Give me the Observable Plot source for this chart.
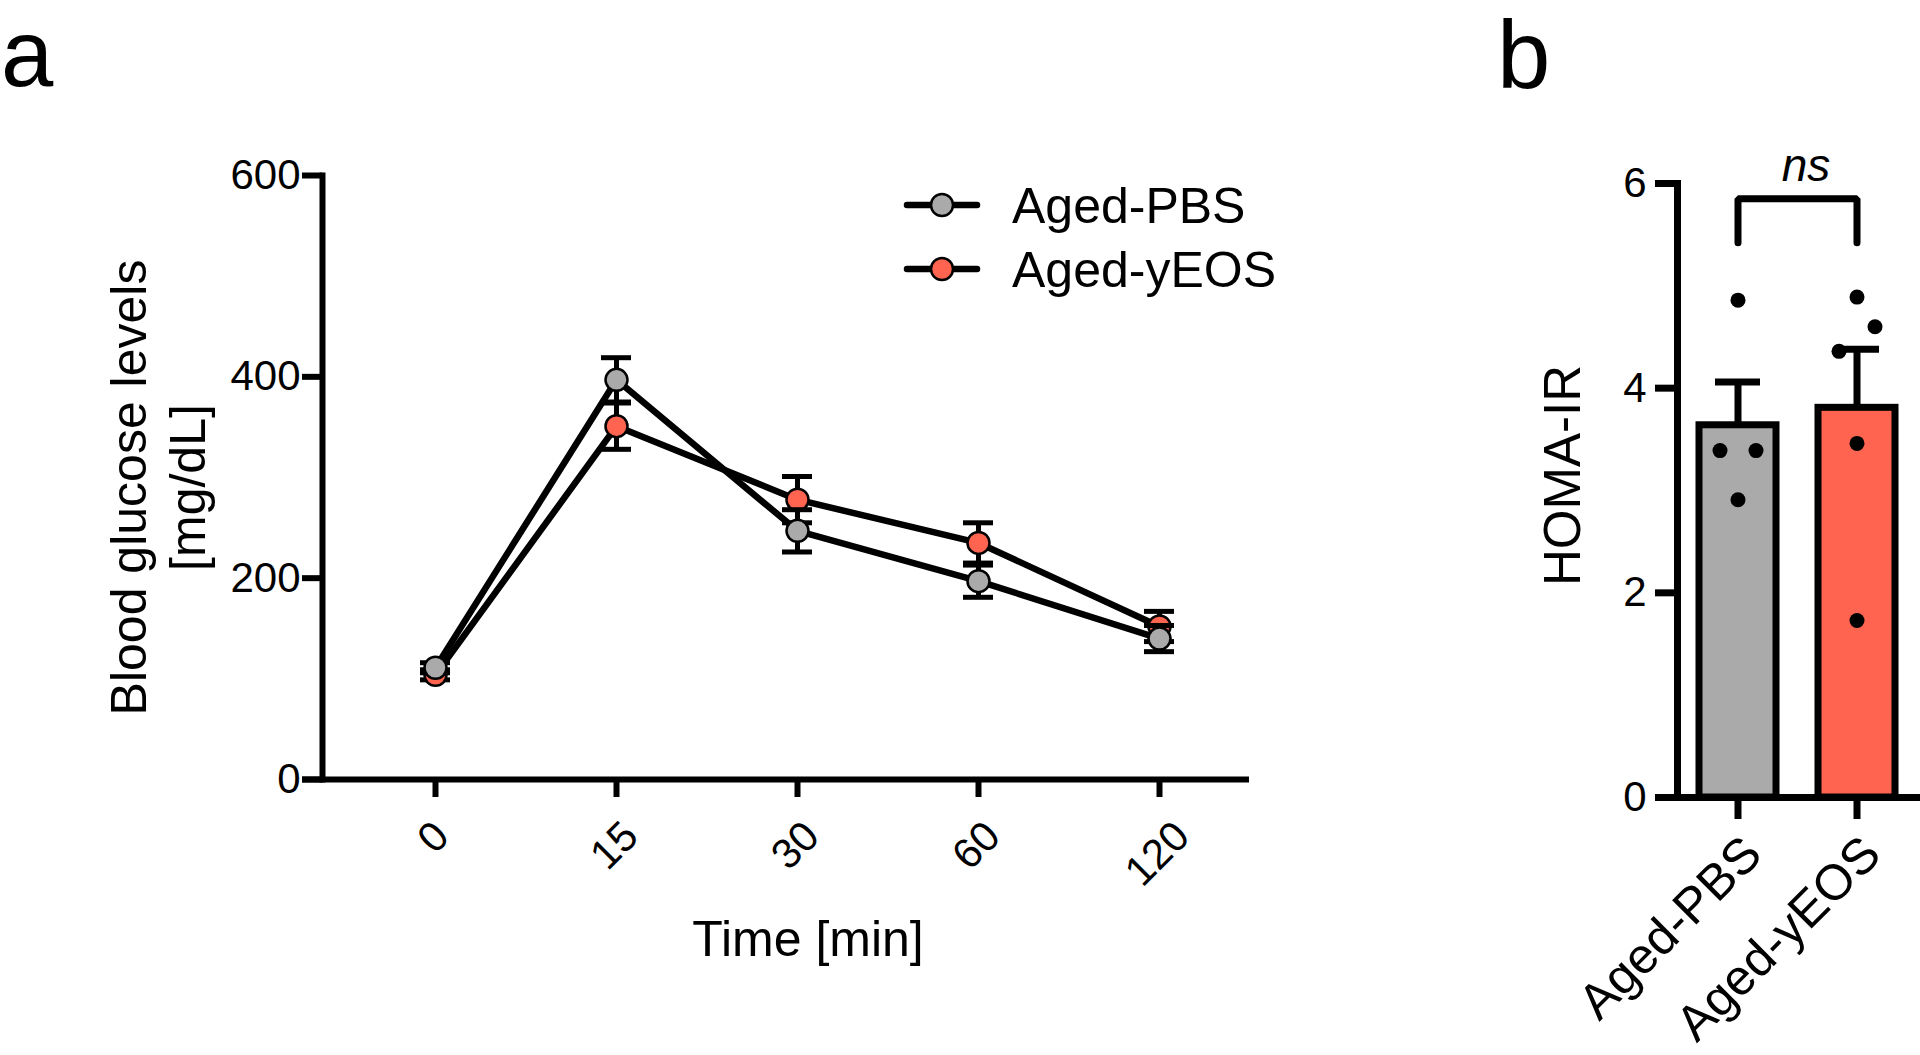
<!DOCTYPE html>
<html>
<head>
<meta charset="utf-8">
<script src="https://cdn.jsdelivr.net/npm/d3@7"></script>
<script src="https://cdn.jsdelivr.net/npm/@observablehq/plot@0.6"></script>
<style>
html, body { margin: 0; padding: 0; background: #fff; }
#root { position: relative; width: 1920px; height: 1055px; overflow: hidden; font-family: "Liberation Sans", Arial, sans-serif; }
#root > svg { position: absolute; }
</style>
</head>
<body>
<div id="root"></div>
<script>
// ---------- Panel a: glucose tolerance test ----------
const times = ["0", "15", "30", "60", "120"];
const seriesNames = ["Aged-PBS", "Aged-yEOS"];
const pbsMean = [111, 397, 247, 197, 140];
const pbsSem = [5, 22, 21, 16, 13];
const yeosMean = [104, 351, 278, 235, 152];
const yeosSem = [5, 23, 23, 20, 15];
const yTicksA = [0, 200, 400, 600];
const xTitleA = "Time [min]";
const yTitleA = "Blood glucose levels\n[mg/dL]";

// ---------- Panel b: HOMA-IR ----------
const groups = ["Aged-PBS", "Aged-yEOS"];
const pbsHoma = [4.86, 3.39, 3.39, 2.91];
const yeosHoma = [4.89, 4.60, 4.36, 3.46, 1.73];
const yTicksB = [0, 2, 4, 6];
const yTitleB = "HOMA-IR";
const sigLabel = "ns";

const colors = { "Aged-PBS": "#aaaaaa", "Aged-yEOS": "#ff6450" };
const FONT = "'Liberation Sans', Arial, sans-serif";

const root = document.getElementById("root");

// text width helper for laying out rotated tick labels
const ctx = document.createElement("canvas").getContext("2d");
function textWidth(s, size) { ctx.font = `${size}px ${FONT}`; return ctx.measureText(s).width; }

// ----- build panel a table -----
const gtt = [];
times.forEach((t, i) => {
  gtt.push({ series: "Aged-PBS", time: t, mean: pbsMean[i], sem: pbsSem[i] });
  gtt.push({ series: "Aged-yEOS", time: t, mean: yeosMean[i], sem: yeosSem[i] });
});

const seriesMarks = ["Aged-yEOS", "Aged-PBS"].flatMap(s => {
  const d = gtt.filter(r => r.series === s);
  return [
    Plot.ruleX(d, { x: "time", y1: r => r.mean - r.sem, y2: r => r.mean + r.sem, stroke: "#000", strokeWidth: 5 }),
    Plot.tickY(d, { x: "time", y: r => r.mean + r.sem, stroke: "#000", strokeWidth: 5 }),
    Plot.tickY(d, { x: "time", y: r => r.mean - r.sem, stroke: "#000", strokeWidth: 5 }),
    Plot.dot(d, { x: "time", y: "mean", r: 11, fill: colors[s], stroke: "#000", strokeWidth: 2.5 })
  ];
});

// rotated time labels: bounding boxes top-aligned and centred under each tick
const tickFontA = 42;
const timeLabelMarks = times.map(t => {
  const w = textWidth(t, tickFontA);
  const h = 0.716 * tickFontA;
  return Plot.text([t], { x: d => d, text: d => d, frameAnchor: "bottom", rotate: -45, textAnchor: "middle", lineAnchor: "middle",
    fontSize: tickFontA, dx: -2, dy: 39 + (w + h) * 0.3536 });
});

const plotA = Plot.plot({
  width: 1300, height: 1055,
  marginLeft: 322, marginRight: 51, marginTop: 175, marginBottom: 276,
  style: { fontFamily: FONT, color: "#000", background: "none", overflow: "visible" },
  x: { type: "band", domain: times, range: [418, 1175], paddingInner: 0.835, paddingOuter: 0, label: null },
  y: { domain: [0, 600], label: null },
  marks: [
    Plot.ruleY([0], { stroke: "#000", strokeWidth: 6, insetLeft: -20 }),
    Plot.frame({ anchor: "left", stroke: "#000", strokeWidth: 6 }),
    Plot.axisY({ ticks: yTicksA, tickSize: 20, tickPadding: 2, fontSize: 42, strokeWidth: 6, label: null }),
    Plot.axisX({ tickSize: 18, tickFormat: () => "", strokeWidth: 6, label: null }),
    ...timeLabelMarks,
    Plot.text([xTitleA], { frameAnchor: "bottom", text: d => d, fontSize: 50, lineAnchor: "middle", dx: 22, dy: 160 }),
    Plot.text([yTitleA], { frameAnchor: "left", text: d => d, fontSize: 50, rotate: -90, lineHeight: 1.18,
      textAnchor: "middle", lineAnchor: "middle", dx: -166, dy: 10 }),
    Plot.lineY(gtt, { x: "time", y: "mean", z: "series", stroke: "#000", strokeWidth: 6.5 }),
    ...seriesMarks
  ]
});
plotA.style.left = "0px";
plotA.style.top = "0px";
root.appendChild(plotA);

// ----- build panel b table -----
const homa = [
  ...pbsHoma.map(v => ({ group: "Aged-PBS", v })),
  ...yeosHoma.map(v => ({ group: "Aged-yEOS", v }))
];
const summary = groups.map(g => {
  const vs = homa.filter(d => d.group === g).map(d => d.v);
  return { group: g, mean: d3.mean(vs), sem: d3.deviation(vs) / Math.sqrt(vs.length) };
});

// scatter layout: points whose values are close get spread sideways
const spread = 18;
homa.forEach(d => d.off = 0);
groups.forEach(g => {
  const pts = homa.filter(d => d.group === g).sort((a, b) => b.v - a.v);
  let cluster = [];
  const flush = () => {
    const n = cluster.length;
    cluster.forEach((p, k) => {
      if (n % 2 === 1) p.off = k === 0 ? 0 : (k % 2 === 1 ? 1 : -1) * Math.ceil(k / 2) * spread;
      else p.off = (k % 2 === 0 ? -1 : 1) * (Math.floor(k / 2) + 1) * spread;
    });
    cluster = [];
  };
  pts.forEach(p => {
    if (cluster.length && cluster[cluster.length - 1].v - p.v >= 0.32) flush();
    cluster.push(p);
  });
  flush();
});
const offsets = Array.from(new Set(homa.map(d => d.off)));
const dotMarks = offsets.map(o => Plot.dot(homa.filter(d => d.off === o), { x: "group", y: "v", r: 7.5, fill: "#000", dx: o }));

const maxV = d3.max(homa, d => d.v);
const bracket = [
  { group: groups[0], y: maxV + 0.53 },
  { group: groups[0], y: maxV + 0.96 },
  { group: groups[1], y: maxV + 0.96 },
  { group: groups[1], y: maxV + 0.53 }
];

const plotB = Plot.plot({
  width: 620, height: 1055,
  marginLeft: 377, marginRight: 0, marginTop: 183, marginBottom: 258,
  style: { fontFamily: FONT, color: "#000", background: "none", overflow: "visible" },
  x: { type: "band", domain: groups, range: [356.8, 637.6], paddingInner: 0.35, paddingOuter: 0.35, label: null },
  y: { domain: [0, 6], label: null },
  color: { type: "identity" },
  marks: [
    Plot.barY(summary, { x: "group", y: "mean", fill: d => colors[d.group], stroke: "#000", strokeWidth: 7 }),
    Plot.ruleX(summary, { x: "group", y1: "mean", y2: d => d.mean + d.sem, stroke: "#000", strokeWidth: 7 }),
    Plot.tickY(summary, { x: "group", y: d => d.mean + d.sem, stroke: "#000", strokeWidth: 7, insetLeft: 16, insetRight: 16 }),
    Plot.ruleY([0], { stroke: "#000", strokeWidth: 7, insetLeft: -22 }),
    Plot.frame({ anchor: "left", stroke: "#000", strokeWidth: 7 }),
    Plot.axisY({ ticks: yTicksB, tickFormat: d3.format("d"), tickSize: 22, tickPadding: 9, fontSize: 42, strokeWidth: 7, label: null }),
    Plot.axisX({ tickSize: 22, tickFormat: () => "", strokeWidth: 7, label: null }),
    Plot.text(groups, { x: d => d, text: d => d, frameAnchor: "bottom", rotate: -45, textAnchor: "end", lineAnchor: "middle",
      fontSize: 50, dx: 15, dy: 48 }),
    Plot.text([yTitleB], { frameAnchor: "left", text: d => d, fontSize: 51, rotate: -90, textAnchor: "middle", lineAnchor: "middle", dx: -114, dy: -15 }),
    Plot.line(bracket, { x: "group", y: "y", stroke: "#000", strokeWidth: 7, strokeLinejoin: "miter" }),
    Plot.text([sigLabel], { frameAnchor: "top", text: d => d, fontSize: 46, fontStyle: "italic", lineAnchor: "bottom", dx: 7, dy: -3 }),
    ...dotMarks
  ]
});
plotB.style.left = "1300px";
plotB.style.top = "0px";
root.appendChild(plotB);

// ----- overlay: panel letters and legend -----
const ov = d3.select(root).append("svg")
  .attr("width", 1920).attr("height", 1055)
  .style("left", "0px").style("top", "0px").style("pointer-events", "none");

ov.append("text").attr("x", 1).attr("y", 86)
  .style("font-family", FONT).style("font-size", "94px").text("a");
ov.append("text").attr("x", 1497).attr("y", 88)
  .style("font-family", FONT).style("font-size", "96px").text("b");

const legend = ov.append("g");
seriesNames.forEach((s, i) => {
  const cy = 205 + i * 64;
  legend.append("line").attr("x1", 907).attr("x2", 977).attr("y1", cy).attr("y2", cy)
    .attr("stroke", "#000").attr("stroke-width", 6.5).attr("stroke-linecap", "round");
  legend.append("circle").attr("cx", 942).attr("cy", cy).attr("r", 11)
    .attr("fill", colors[s]).attr("stroke", "#000").attr("stroke-width", 2.5);
  legend.append("text").attr("x", 1012).attr("y", cy + 18)
    .style("font-family", FONT).style("font-size", "50px").text(s);
});
</script>
</body>
</html>
